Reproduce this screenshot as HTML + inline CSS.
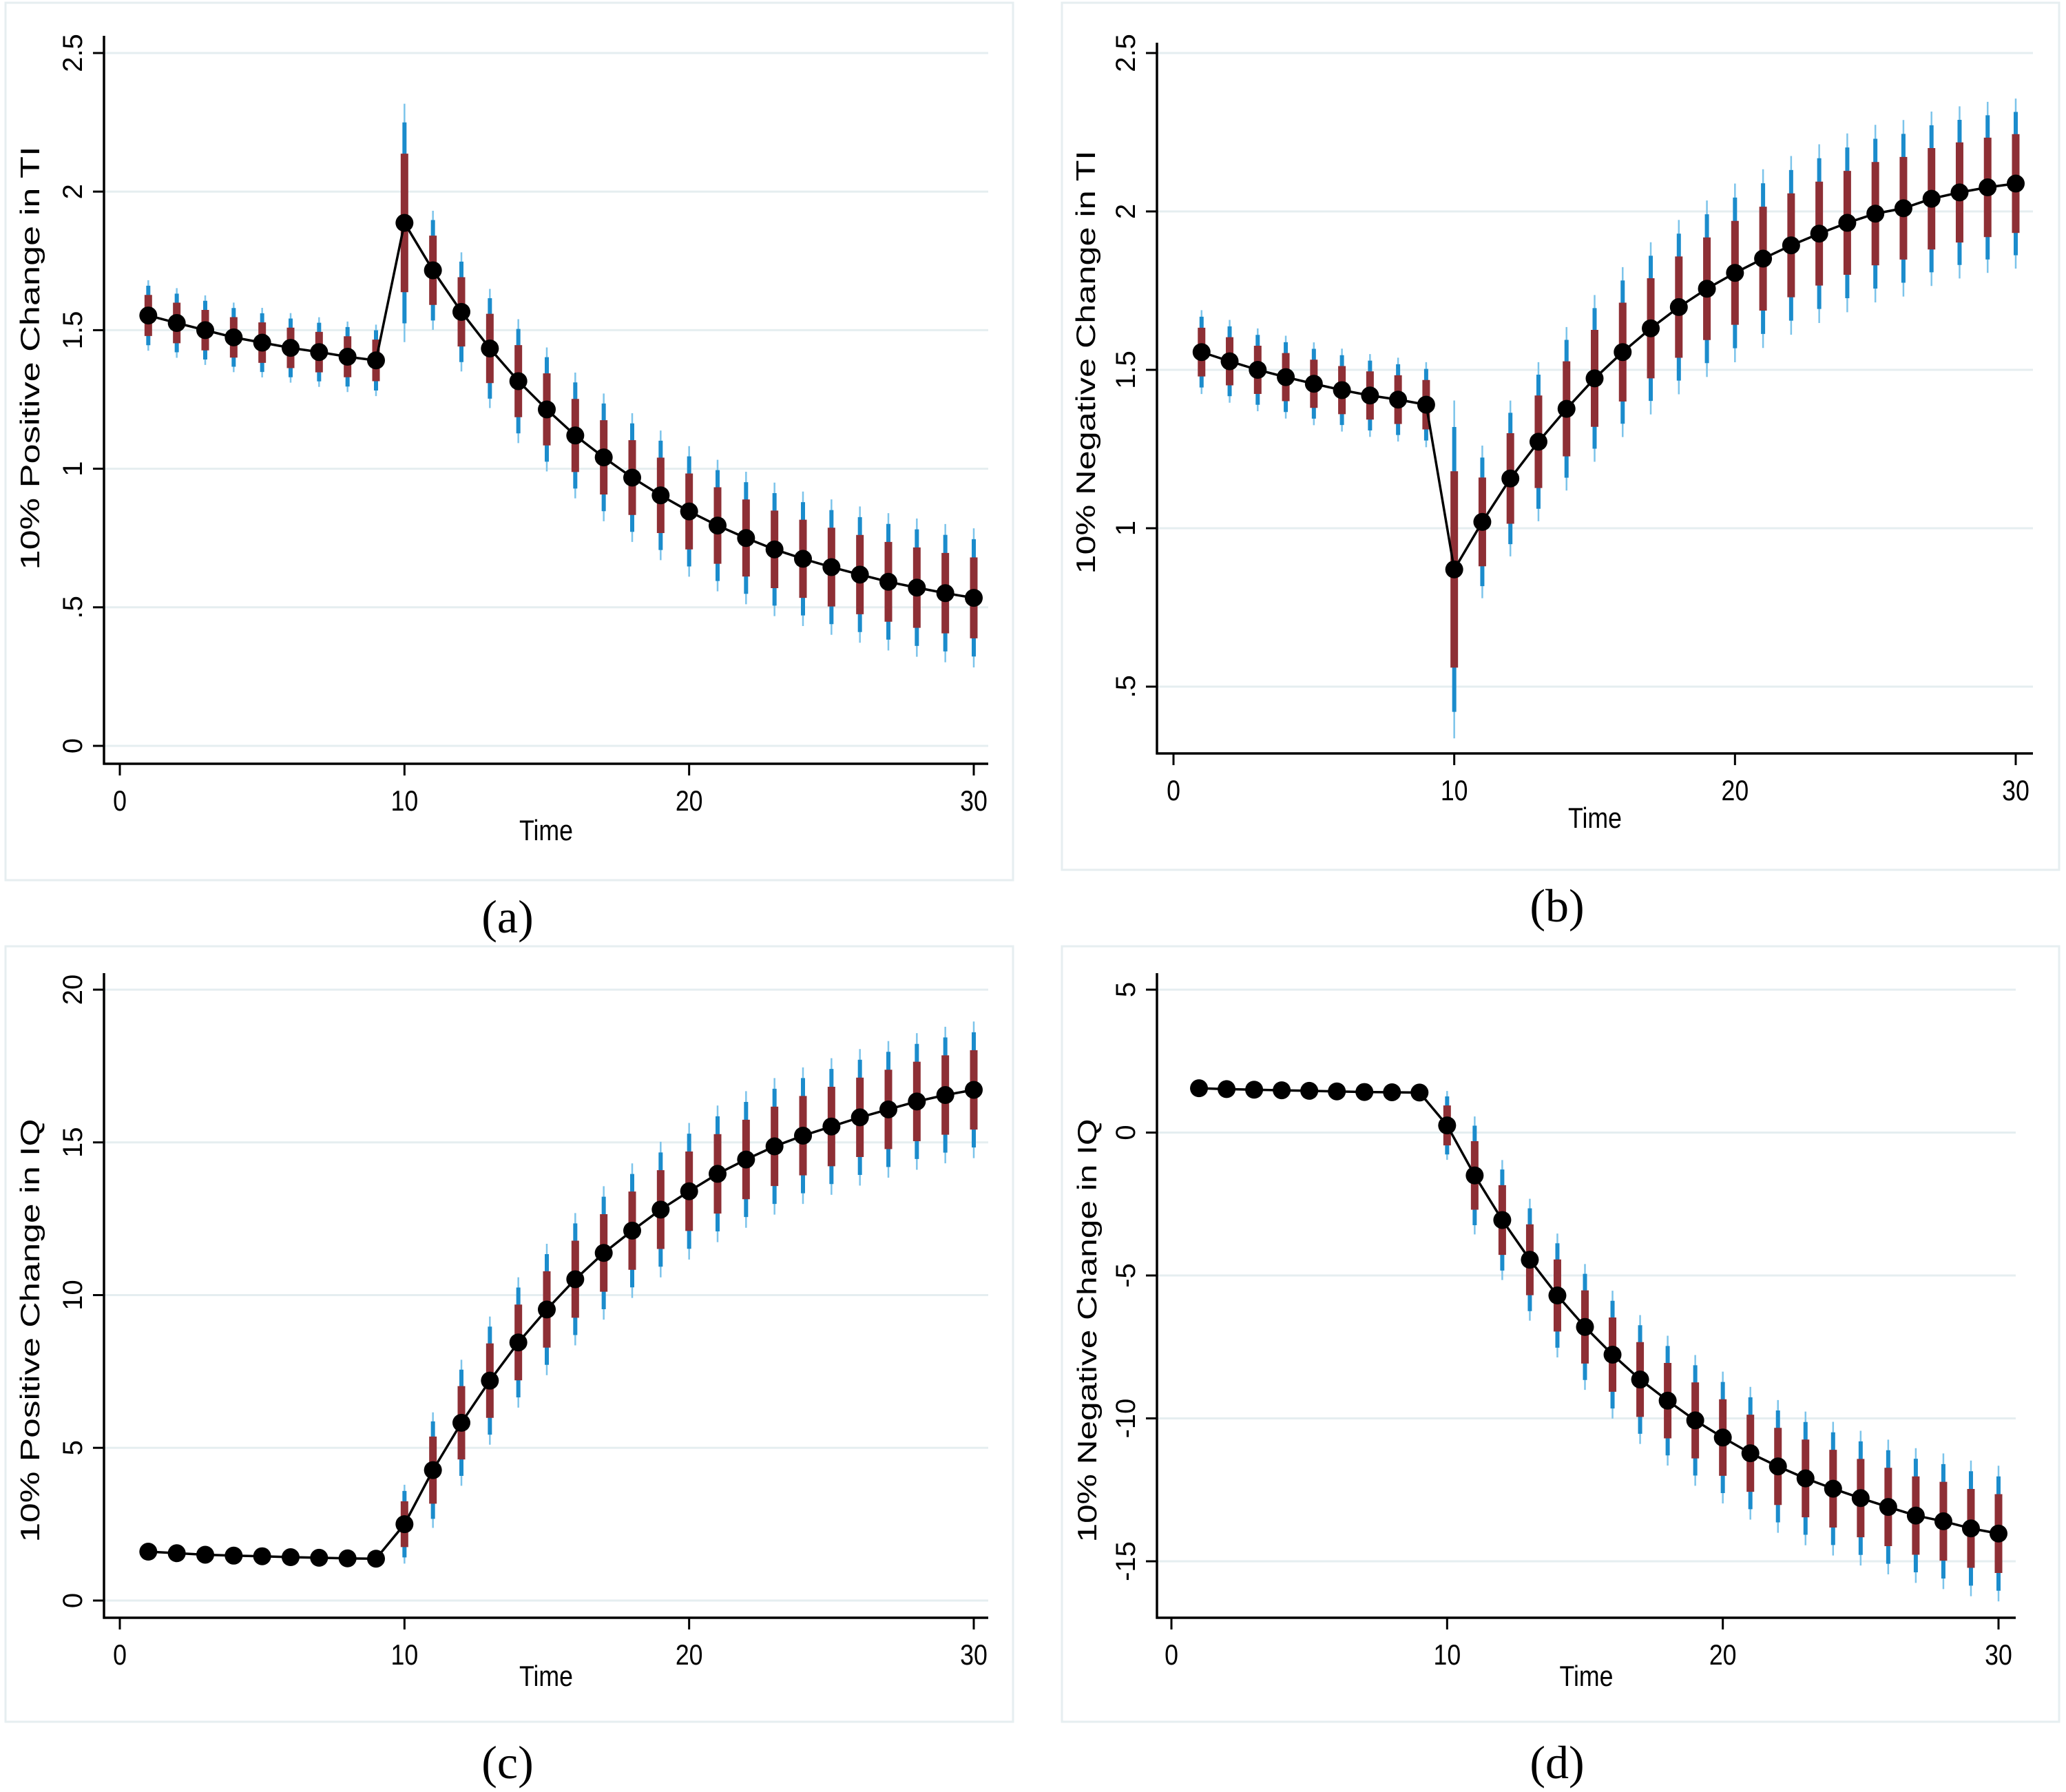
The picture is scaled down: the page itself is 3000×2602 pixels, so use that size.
<!DOCTYPE html>
<html><head><meta charset="utf-8"><style>
html,body{margin:0;padding:0;background:#fff;}
svg{display:block;}
</style></head><body>
<svg id="fig" width="3000" height="2602" viewBox="0 0 3000 2602" xmlns="http://www.w3.org/2000/svg"></svg>
<script>
// ---- data ----
const timeSteps = [1,2,3,4,5,6,7,8,9,10,11,12,13,14,15,16,17,18,19,20,21,22,23,24,25,26,27,28,29,30];
const valuesA = [1.553,1.526,1.50,1.474,1.455,1.436,1.421,1.404,1.391,1.887,1.716,1.566,1.434,1.316,1.214,1.12,1.041,0.968,0.904,0.846,0.795,0.75,0.709,0.675,0.645,0.618,0.592,0.571,0.551,0.534];
const ciA = [0.074,0.073,0.073,0.073,0.073,0.073,0.073,0.074,0.075,0.25,0.125,0.125,0.125,0.13,0.13,0.132,0.134,0.135,0.136,0.137,0.138,0.139,0.14,0.141,0.142,0.143,0.144,0.145,0.145,0.146];
const valuesB = [1.556,1.527,1.50,1.477,1.456,1.436,1.419,1.406,1.39,0.87,1.02,1.157,1.273,1.377,1.473,1.556,1.631,1.698,1.756,1.806,1.851,1.893,1.93,1.964,1.993,2.01,2.04,2.06,2.076,2.088];
const ciB = [0.077,0.076,0.076,0.076,0.076,0.076,0.076,0.077,0.078,0.31,0.14,0.143,0.146,0.15,0.153,0.156,0.158,0.16,0.162,0.164,0.164,0.164,0.164,0.164,0.163,0.162,0.16,0.158,0.157,0.156];
const valuesC = [1.6,1.55,1.5,1.47,1.45,1.42,1.4,1.38,1.37,2.5,4.27,5.82,7.2,8.45,9.53,10.52,11.38,12.11,12.8,13.4,13.97,14.44,14.87,15.22,15.52,15.82,16.08,16.34,16.55,16.72];
const ciC = [0.1,0.1,0.1,0.1,0.1,0.1,0.1,0.1,0.1,0.75,1.1,1.2,1.22,1.24,1.25,1.26,1.27,1.28,1.29,1.3,1.3,1.3,1.3,1.3,1.3,1.3,1.3,1.3,1.3,1.3];
const valuesD = [1.55,1.52,1.5,1.48,1.46,1.44,1.42,1.41,1.4,0.25,-1.5,-3.06,-4.45,-5.7,-6.8,-7.77,-8.64,-9.38,-10.07,-10.67,-11.22,-11.68,-12.1,-12.46,-12.79,-13.1,-13.4,-13.6,-13.85,-14.03];
const ciD = [0.1,0.1,0.1,0.1,0.1,0.1,0.1,0.1,0.1,0.7,1.2,1.22,1.24,1.26,1.28,1.3,1.31,1.32,1.33,1.34,1.35,1.35,1.36,1.36,1.37,1.37,1.37,1.38,1.38,1.38];
const xTicks = [0,10,20,30];
const yTicksA = [0,0.5,1,1.5,2,2.5];
const yTickLabelsA = ["0",".5","1","1.5","2","2.5"];
const yTicksB = [0.5,1,1.5,2,2.5];
const yTickLabelsB = [".5","1","1.5","2","2.5"];
const yTicksC = [0,5,10,15,20];
const yTickLabelsC = ["0","5","10","15","20"];
const yTicksD = [-15,-10,-5,0,5];
const yTickLabelsD = ["-15","-10","-5","0","5"];
</script>
<script>
const NS="http://www.w3.org/2000/svg";
const svg=document.getElementById('fig');
function mk(tag,attrs,parent){const e=document.createElementNS(NS,tag);for(const k in attrs)e.setAttribute(k,attrs[k]);(parent||svg).appendChild(e);return e;}
const panels=[
 {id:'a',box:[8,4,1471,1278],ax:151,ay:1109,right:1435,top:52,x0:174,x30:1414,yv0:0,yp0:1083,yv1:2.5,yp1:77,vals:valuesA,ci:ciA,yt:yTicksA,ytl:yTickLabelsA,title:'10% Positive Change in TI',tx:57,ty:520,timeY:1220,xlY:1177,cap:'(a)',cx:737,cy:1354},
 {id:'b',box:[1542,4,2990,1263],ax:1680,ay:1094,right:2952,top:62,x0:1704,x30:2927,yv0:0.5,yp0:997,yv1:2.5,yp1:77,vals:valuesB,ci:ciB,yt:yTicksB,ytl:yTickLabelsB,title:'10% Negative Change in TI',tx:1590,ty:526,timeY:1202,xlY:1162,cap:'(b)',cx:2261,cy:1338},
 {id:'c',box:[8,1374,1471,2500],ax:151,ay:2349,right:1435,top:1413,x0:174,x30:1414,yv0:0,yp0:2324,yv1:20,yp1:1437,vals:valuesC,ci:ciC,yt:yTicksC,ytl:yTickLabelsC,title:'10% Positive Change in IQ',tx:57,ty:1932,timeY:2448,xlY:2417,cap:'(c)',cx:737,cy:2582},
 {id:'d',box:[1542,1374,2990,2500],ax:1680,ay:2349,right:2927,top:1413,x0:1701,x30:2902,yv0:-15,yp0:2267,yv1:5,yp1:1437,vals:valuesD,ci:ciD,yt:yTicksD,ytl:yTickLabelsD,title:'10% Negative Change in IQ',tx:1592,ty:1932,timeY:2448,xlY:2417,cap:'(d)',cx:2261,cy:2582}
];
panels.forEach(p=>{
 const g=mk('g',{});
 
 
 const X=v=>p.x0+(v-0)*(p.x30-p.x0)/30;
 const Y=v=>p.yp0+(v-p.yv0)*(p.yp1-p.yp0)/(p.yv1-p.yv0);
 const bx=mk('rect',{x:p.box[0],y:p.box[1],width:p.box[2]-p.box[0],height:p.box[3]-p.box[1],fill:'#fff',stroke:'#e6eef0','stroke-width':3},g);
 
 
 p.yt.forEach((v,i)=>{
  const y=Y(v);
  const gl=mk('line',{x1:p.ax,x2:p.right,y1:y,y2:y,stroke:'#e5eef0','stroke-width':3},g);
  
  
  mk('line',{x1:p.ax-16,x2:p.ax,y1:y,y2:y,stroke:'#000','stroke-width':3},g);
  const t=mk('text',{x:0,y:0,transform:`translate(${p.ax-32},${y}) rotate(-90)`,'text-anchor':'middle','font-family':'Liberation Sans, sans-serif','font-size':40,fill:'#000'},g);
  t.textContent=p.ytl[i];
  
  
 });
 xTicks.forEach(v=>{
  const x=X(v);
  mk('line',{x1:x,x2:x,y1:p.ay,y2:p.ay+17,stroke:'#000','stroke-width':3},g);
  const t=mk('text',{x:0,y:0,transform:`translate(${x},${p.xlY}) scale(0.85,1)`,'text-anchor':'middle','font-family':'Liberation Sans, sans-serif','font-size':42,fill:'#000'},g);
  t.textContent=String(v);
  
  
 });
 const ya=mk('line',{x1:p.ax,x2:p.ax,y1:p.top,y2:p.ay+1.5,stroke:'#000','stroke-width':3.5},g);
 
 
 const xa=mk('line',{x1:p.ax-1.5,x2:p.right,y1:p.ay,y2:p.ay,stroke:'#000','stroke-width':3.5},g);
 
 
 const yt=mk('text',{x:0,y:0,transform:`translate(${p.tx},${p.ty}) rotate(-90)`,'text-anchor':'middle','font-family':'Liberation Sans, sans-serif','font-size':39,fill:'#000',textLength:615,lengthAdjust:'spacingAndGlyphs'},g);
 yt.textContent=p.title;
 
 
 const xt=mk('text',{x:0,y:0,transform:`translate(${(p.ax+p.right)/2},${p.timeY}) scale(0.85,1)`,'text-anchor':'middle','font-family':'Liberation Sans, sans-serif','font-size':42,fill:'#000'},g);
 xt.textContent='Time';
 
 
 timeSteps.forEach((t,i)=>{
  const x=X(t),v=p.vals[i],h=p.ci[i];
  const l1=mk('line',{x1:x,x2:x,y1:Y(v-h*1.72),y2:Y(v+h*1.72),stroke:'#7cc4ea','stroke-width':2.5},g);
  
  
  const l2=mk('line',{x1:x,x2:x,y1:Y(v-h*1.45),y2:Y(v+h*1.45),stroke:'#1b8ccc','stroke-width':6},g);
  
  
  const l3=mk('line',{x1:x,x2:x,y1:Y(v-h),y2:Y(v+h),stroke:'#8e2f35','stroke-width':11},g);
  
  
 });
 const pts=timeSteps.map((t,i)=>X(t)+','+Y(p.vals[i])).join(' ');
 const pl=mk('polyline',{points:pts,fill:'none',stroke:'#000','stroke-width':3.5},g);
 
 
 timeSteps.forEach((t,i)=>{
  const c=mk('circle',{cx:X(t),cy:Y(p.vals[i]),r:13,fill:'#000'},g);
  
  
 });
 const cap=mk('text',{x:p.cx,y:p.cy,'text-anchor':'middle','font-family':'Liberation Serif, serif','font-size':68,fill:'#000'},g);
 cap.textContent=p.cap;
 
 
});
</script>
</body></html>
